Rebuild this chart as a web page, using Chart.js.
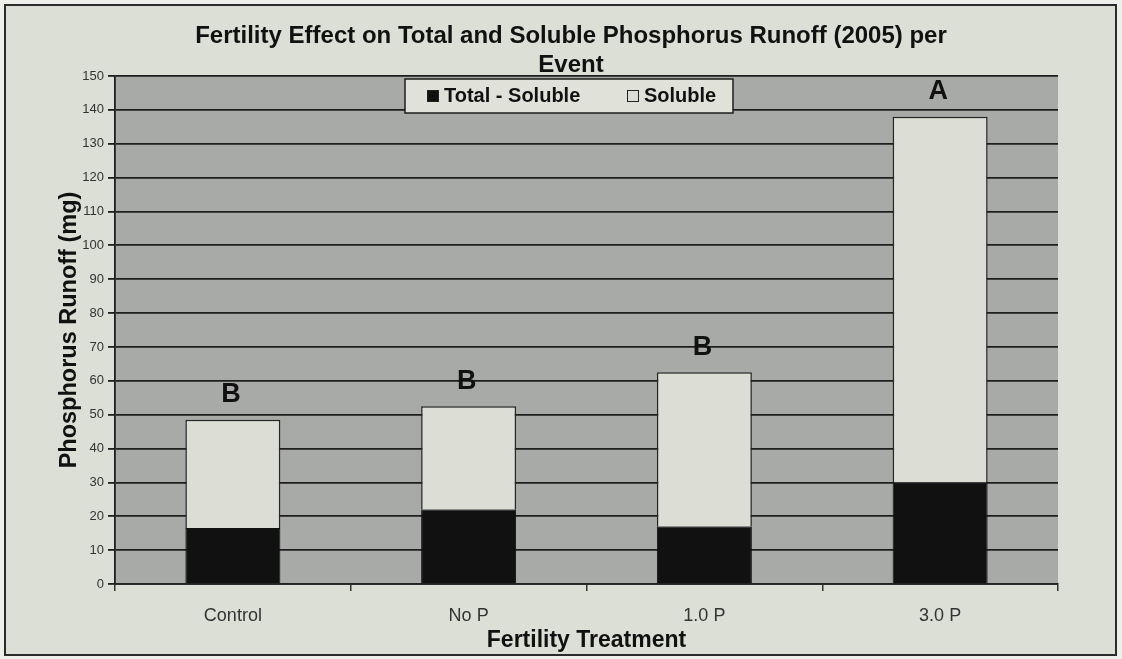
<!DOCTYPE html>
<html><head><meta charset="utf-8">
<script src="https://cdn.jsdelivr.net/npm/chart.js@4.4.0/dist/chart.umd.min.js"></script>
<style>html,body{margin:0;padding:0;background:#eeefeb;} #wrap{width:1122px;height:659px;position:relative;}</style>
</head><body><div id="wrap"><canvas id="c" width="1122" height="659"></canvas></div>
<script>
// ---- data ----
const categories = ['Control', 'No P', '1.0 P', '3.0 P'];
const totalMinusSoluble = [16.5, 22, 17, 30];
const soluble = [32, 30.5, 45.5, 108];
const significance = ['B', 'B', 'B', 'A'];
const seriesLabels = ['Total - Soluble', 'Soluble'];
const yMin = 0, yMax = 150, yStep = 10;
const titleLines = ['Fertility Effect on Total and Soluble Phosphorus Runoff (2005) per', 'Event'];
const xTitle = 'Fertility Treatment';
const yTitle = 'Phosphorus Runoff (mg)';

// ---- styles ----
const C_OUT = '#eeefeb', C_BG = '#dcdfd5', C_PLOT = '#a8aaa7', C_DARK = '#1e1e1e';
const C_BLACK = '#111111', C_LIGHT = '#dcded6';
const FONT = '"Liberation Sans", Arial, sans-serif';

const decor = {
  id: 'decor',
  beforeDraw(chart) {
    const ctx = chart.ctx, a = chart.chartArea;
    ctx.save();
    ctx.fillStyle = C_OUT; ctx.fillRect(0, 0, chart.width, chart.height);
    ctx.fillStyle = C_BG; ctx.fillRect(5, 5, 1111, 650);
    ctx.strokeStyle = '#2b2b2b'; ctx.lineWidth = 2; ctx.strokeRect(5, 5, 1111, 650);
    ctx.fillStyle = C_PLOT; ctx.fillRect(a.left, a.top, a.right - a.left, a.bottom - a.top);
    ctx.restore();
  },
  afterDatasetsDraw(chart) {
    const ctx = chart.ctx;
    const meta = chart.getDatasetMeta(1);
    ctx.save();
    ctx.fillStyle = '#111';
    ctx.font = 'bold 27px ' + FONT;
    ctx.textAlign = 'center'; ctx.textBaseline = 'middle';
    meta.data.forEach((el, i) => { ctx.fillText(significance[i], el.x - 2, el.y - 25); });
    ctx.restore();
  },
  afterDraw(chart) {
    const ctx = chart.ctx;
    ctx.save();
    // title
    ctx.fillStyle = '#111';
    ctx.font = 'bold 24px ' + FONT;
    ctx.textAlign = 'center'; ctx.textBaseline = 'middle';
    ctx.fillText(titleLines[0], 571, 36);
    ctx.fillText(titleLines[1], 571, 65);
    // legend
    ctx.fillStyle = '#e0e2da';
    ctx.fillRect(405, 79, 328, 34);
    ctx.strokeStyle = C_DARK; ctx.lineWidth = 1.5; ctx.strokeRect(405, 79, 328, 34);
    ctx.font = 'bold 20px ' + FONT;
    ctx.textAlign = 'left';
    const ds = chart.data.datasets;
    const xs = [427, 627];
    ds.forEach((d, i) => {
      ctx.fillStyle = d.backgroundColor;
      ctx.fillRect(xs[i], 90, 12, 12);
      ctx.strokeStyle = '#222'; ctx.lineWidth = 1; ctx.strokeRect(xs[i] + 0.5, 90.5, 11, 11);
      ctx.fillStyle = '#111';
      ctx.fillText(d.label, xs[i] + 17, 96.5);
    });
    ctx.restore();
  }
};

new Chart(document.getElementById('c'), {
  type: 'bar',
  data: {
    labels: categories,
    datasets: [
      { label: seriesLabels[0], data: totalMinusSoluble, backgroundColor: C_BLACK, borderColor: C_BLACK, borderWidth: 1 },
      { label: seriesLabels[1], data: soluble, backgroundColor: C_LIGHT, borderColor: '#262626', borderWidth: 1.5 }
    ]
  },
  options: {
    responsive: false, animation: false, devicePixelRatio: 1,
    layout: { padding: { top: 76, right: 64, bottom: 0, left: 0 } },
    datasets: { bar: { barPercentage: 0.403, categoryPercentage: 1 } },
    plugins: { legend: { display: false }, tooltip: { enabled: false }, title: { display: false } },
    scales: {
      x: {
        stacked: true,
        grid: { display: true, drawOnChartArea: false, offset: true, tickLength: 7, color: '#333', lineWidth: 1.5 },
        border: { color: '#222', width: 1.8 },
        ticks: { color: '#333', font: { family: FONT, size: 18 }, padding: 14 },
        title: { display: true, text: xTitle, color: '#111', font: { family: FONT, size: 23, weight: 'bold' }, padding: { top: 0, bottom: 5 } },
        afterFit(s) { s.height = 75; }
      },
      y: {
        stacked: true, min: yMin, max: yMax,
        ticks: { stepSize: yStep, color: '#333', font: { family: FONT, size: 13 }, padding: 4 },
        grid: { color: C_DARK, lineWidth: 1.8, tickLength: 7 },
        border: { color: C_DARK, width: 1.8 },
        title: { display: true, text: yTitle, color: '#111', font: { family: FONT, size: 23.5, weight: 'bold' }, padding: { top: 55, bottom: 0 } },
        afterFit(s) { s.width = 115; }
      }
    }
  },
  plugins: [decor]
});
</script>
</body></html>
